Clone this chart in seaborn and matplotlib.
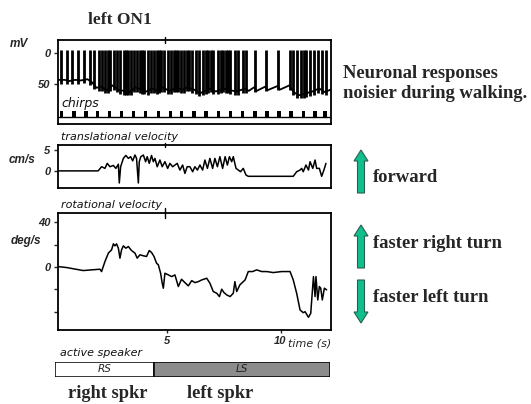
import numpy as np
import matplotlib
matplotlib.use("Agg")
import matplotlib.pyplot as plt
from matplotlib.patches import FancyArrow
import seaborn as sns

# ---------------- data ----------------
# membrane potential (left ON1), mV ; time in s
spike_t = [0.33, 0.58, 0.81, 1.07, 1.36, 1.62, 1.80, 1.99, 2.14, 2.28, 2.40, 2.48,
           2.65, 2.80, 2.94, 3.09, 3.18, 3.27, 3.41, 3.56, 3.68, 3.82, 3.92, 4.00,
           4.15, 4.31, 4.44, 4.56, 4.66, 4.74, 4.88, 5.03, 5.18, 5.32, 5.40, 5.47,
           5.62, 5.76, 5.86, 5.96, 6.10, 6.26, 6.40, 6.59, 6.70, 6.81, 6.92, 7.03,
           7.25, 7.36, 7.47, 7.61, 7.70, 7.79, 7.98, 8.13, 8.35, 8.49, 8.86, 9.35,
           9.89, 10.41, 10.55, 10.73, 10.92, 11.03, 11.14, 11.29, 11.46, 11.65,
           11.84, 12.02]
spike_peak_mv = 4
base_t = [0.18, 0.5, 0.7, 0.95, 1.2, 1.5, 1.7, 1.9, 2.1, 2.35, 2.6, 2.85, 3.1,
          3.35, 3.6, 3.9, 4.1, 4.35, 4.6, 4.8, 5.1, 5.4, 5.7, 5.9, 6.2, 6.45,
          6.9, 7.15, 7.5, 7.8, 8.05, 8.3, 8.45, 8.6, 8.84, 8.95, 9.33, 9.42,
          9.87, 9.97, 10.39, 10.5, 10.65, 10.85, 11.1, 11.4, 11.7, 11.95, 12.2]
base_mv = [-44, -44, -46, -44, -45, -43, -48, -57, -55, -61, -53, -60, -62,
           -64, -56, -60, -63, -58, -62, -56, -62, -57, -60, -56, -60, -66,
           -58, -63, -58, -61, -63, -60, -58, -62, -56, -62, -55, -61,
           -54, -60, -53, -60, -66, -69, -66, -63, -58, -64, -60]

# chirp onsets (s)
chirp_t = [0.36, 0.90, 1.43, 1.95, 2.46, 3.00, 3.53, 4.06, 4.62, 5.15, 5.65, 6.19,
           6.72, 7.26, 7.81, 8.33, 8.88, 9.41, 9.93, 10.46, 11.00, 11.52, 11.96]

# translational velocity (cm/s)
trans_t = [0.18, 1.97, 2.12, 2.27, 2.37, 2.49, 2.64, 2.75, 2.86, 2.90, 2.96, 3.08,
           3.19, 3.30, 3.40, 3.49, 3.59, 3.66, 3.74, 3.78, 3.85, 3.96, 4.06, 4.13,
           4.22, 4.32, 4.40, 4.47, 4.57, 4.69, 4.79, 4.91, 5.03, 5.13, 5.25, 5.35,
           5.45, 5.57, 5.69, 5.79, 5.89, 6.01, 6.13, 6.23, 6.34, 6.45, 6.57, 6.67,
           6.78, 6.89, 7.01, 7.11, 7.22, 7.33, 7.45, 7.56, 7.66, 7.75, 7.85, 7.92,
           8.04, 8.14, 8.24, 8.36, 8.48, 8.58, 9.39, 10.56, 10.71, 10.86, 10.93,
           11.00, 11.12, 11.23, 11.30, 11.42, 11.52, 11.59, 11.71, 11.81, 11.91, 12.00]
trans_v = [0.0, 0.0, 1.0, 0.6, 1.8, 1.0, 1.3, 0.6, 1.6, -2.9, 1.0, 3.0,
           3.7, 3.0, 3.4, 2.4, 3.8, 3.0, -2.9, 2.2, 3.4, 3.8, 2.2, 3.4,
           1.8, 3.7, 2.2, 3.0, 1.0, 2.6, 1.0, 2.2, 0.6, 1.8, 1.0, 1.4,
           1.8, 0.2, 1.4, -0.6, 1.0, 1.0, -0.2, 1.0, 0.2, 1.4, 0.2, 2.6,
           0.6, 3.0, 0.6, 3.0, 1.0, 3.4, 0.6, 3.4, 1.4, 3.4, 2.2, 3.4,
           0.6, 0.2, -0.2, 0.6, -1.0, -1.3, -1.3, -1.3, -0.2, 0.2, 0.6,
           -0.2, 1.4, 0.2, 2.2, 0.6, 2.6, 0.6, 0.6, -1.3, 0.2, 1.8]

# rotational velocity (deg/s)
rot_t = [0.18, 0.58, 1.31, 1.68, 2.05, 2.12, 2.27, 2.42, 2.56, 2.64, 2.71, 2.78,
         2.86, 2.93, 3.00, 3.08, 3.19, 3.30, 3.44, 3.59, 3.69, 3.81, 3.96, 4.10,
         4.22, 4.32, 4.43, 4.54, 4.62, 4.72, 4.79, 4.84, 4.91, 5.06, 5.21, 5.35,
         5.50, 5.64, 5.79, 5.94, 6.09, 6.23, 6.38, 6.53, 6.75, 6.89, 7.04, 7.19,
         7.31, 7.41, 7.51, 7.63, 7.78, 7.92, 7.99, 8.07, 8.21, 8.44, 8.58, 8.77,
         8.95, 9.17, 9.39, 9.68, 10.05, 10.42, 10.56, 10.71, 10.86, 11.00, 11.08,
         11.23, 11.33, 11.40, 11.45, 11.52, 11.56, 11.64, 11.71, 11.77, 11.84,
         11.93, 12.03]
rot_v = [0.3, -0.6, -3.3, -2.7, -2.1, -4.2, 4.8, 12.3, 15.2, 20.6, 18.8, 20.6,
         16.7, 7.8, 15.2, 18.8, 16.7, 18.2, 14.6, 12.3, 7.8, 10.8, 9.9, 9.3,
         14.6, 12.9, 9.3, 3.3, 1.8, -5.7, -14.6, -19.1, -5.7, -7.2, -8.7, -7.2,
         -17.6, -11.1, -14.1, -17.0, -12.3, -14.1, -13.2, -11.7, -10.2, -14.6, -22.1, -23.6,
         -26.6, -20.0, -23.0, -25.1, -26.6, -23.6, -13.2, -22.1, -16.1, -11.7, -4.2, -4.2,
         -2.7, -4.2, -4.2, -5.1, -4.2, -4.2, -11.7, -23.6, -38.6, -41.0, -40.1,
         -45.1, -41.6, -22.1, -8.7, -26.6, -8.7, -29.6, -17.6, -19.1, -29.6,
         -19.1, -20.6]

# active speaker
speaker_names = ["RS", "LS"]
speaker_start = [0.07, 4.43]
speaker_end = [4.43, 12.18]
speaker_colors = ["white", "#8c8c8c"]

# ---------------- style ----------------
sns.set_theme(style="ticks")
plt.rcParams["font.family"] = ["Liberation Sans", "DejaVu Sans"]
plt.rcParams["axes.linewidth"] = 1.3
plt.rcParams["axes.edgecolor"] = "black"

fig = plt.figure(figsize=(5.31, 4.04), dpi=100)
fig.patch.set_facecolor("white")

W, H = 531.0, 404.0
def box(x0, y0, x1, y1):
    return [x0 / W, 1 - y1 / H, (x1 - x0) / W, (y1 - y0) / H]

XL = (0.18, 12.2)
lab_kw = dict(fontstyle="italic", fontweight="bold", fontsize=8.5)

def style_axis(ax):
    ax.set_xlim(*XL)
    for s in ax.spines.values():
        s.set_visible(True)
        s.set_linewidth(1.3)
    ax.tick_params(axis="y", direction="out", length=3, width=1, pad=2, labelsize=8)
    ax.tick_params(axis="x", bottom=False, labelbottom=False)
    for lab in ax.get_yticklabels():
        lab.set_fontweight("bold"); lab.set_fontstyle("italic")
    ax.set_xlabel(""); ax.set_ylabel("")
    ax.plot([4.9, 4.9], [0.96, 1.04], transform=ax.get_xaxis_transform(),
            color="black", lw=1, clip_on=False)

# --- membrane potential + chirps ---
ax1 = fig.add_axes(box(57.5, 40, 330.5, 124))
sns.lineplot(x=base_t, y=base_mv, ax=ax1, color="black", lw=1.3, sort=False, estimator=None)
spike_base = np.interp(spike_t, base_t, base_mv)
ax1.vlines(spike_t, spike_base - 6, spike_peak_mv, color="black", lw=2.0)
ax1.bar(chirp_t, 11, bottom=-105, width=0.15, color="black", align="center",
        linewidth=0)
ax1.axhline(-105, color="black", lw=1.0)
ax1.set_ylim(-116, 21)
ax1.set_yticks([0, -50])
ax1.set_yticklabels(["0", "50"])
style_axis(ax1)

# --- translational velocity ---
ax2 = fig.add_axes(box(57.5, 145, 330.5, 188))
sns.lineplot(x=trans_t, y=trans_v, ax=ax2, color="black", lw=1.1, sort=False, estimator=None)
ax2.set_ylim(-4.1, 6.2)
ax2.set_yticks([5, 0])
ax2.set_yticklabels(["5", "0"])
style_axis(ax2)

# --- rotational velocity ---
ax3 = fig.add_axes(box(57.5, 213, 330.5, 330))
sns.lineplot(x=rot_t, y=rot_v, ax=ax3, color="black", lw=1.1, sort=False, estimator=None)
ax3.set_ylim(-56.5, 48.2)
ax3.set_yticks([40, 20, 0, -20, -40])
ax3.set_yticklabels(["40", "", "0", "", ""])
style_axis(ax3)
ax3.tick_params(axis="x", bottom=True, labelbottom=True, direction="out",
                length=2.5, width=1, pad=1.5, labelsize=8)
ax3.set_xticks([5, 10])
ax3.set_xticklabels(["5", "10"])
for lab in ax3.get_xticklabels():
    lab.set_fontweight("bold"); lab.set_fontstyle("italic")

# --- active speaker bar ---
ax4 = fig.add_axes(box(55, 362, 330, 377))
ax4.barh([0] * len(speaker_names), np.subtract(speaker_end, speaker_start),
         left=speaker_start, height=1.0, color=speaker_colors,
         edgecolor="black", linewidth=1.1)
for nm, a, b in zip(speaker_names, speaker_start, speaker_end):
    ax4.text((a + b) / 2, 0, nm, ha="center", va="center", fontsize=7.5,
             fontstyle="italic", family="DejaVu Sans", color="#222222")
ax4.set_xlim(0.07, 12.18)
ax4.set_ylim(-0.5, 0.5)
ax4.axis("off")

# --- overlay for annotations (pixel coordinates) ---
ov = fig.add_axes([0, 0, 1, 1])
ov.set_xlim(0, W); ov.set_ylim(H, 0); ov.axis("off")
ov.patch.set_alpha(0)

ov.text(120, 20, "left ON1", ha="center", va="center", fontsize=12.5,
        family="Liberation Serif", fontweight="bold")
ov.text(19, 44, "mV", ha="center", va="center", **lab_kw)
ov.text(22, 160, "cm/s", ha="center", va="center", **lab_kw)
ov.text(26, 241, "deg/s", ha="center", va="center", **lab_kw)
small = dict(fontstyle="italic", fontsize=8, family="DejaVu Sans",
             color="#111111", va="center", ha="left")
ov.text(61, 103, "chirps", **dict(small, fontsize=9))
ov.text(61, 137, "translational velocity", **small)
ov.text(61, 205, "rotational velocity", **small)
ov.text(60, 353, "active speaker", **small)
ov.text(288, 343, "time (s)", ha="left", va="center", fontstyle="italic",
        fontsize=8, family="DejaVu Sans")

serif = dict(family="Liberation Serif", fontweight="bold", fontsize=13.4,
             ha="left", va="center")
ov.text(343, 73, "Neuronal responses", **serif)
ov.text(343, 93, "noisier during walking.", **serif)
ov.text(373, 178, "forward", **serif)
ov.text(373, 243, "faster right turn", **serif)
ov.text(373, 298, "faster left turn", **serif)
ov.text(108, 393, "right spkr", family="Liberation Serif", fontweight="bold",
        fontsize=13.2, ha="center", va="center")
ov.text(220, 393, "left spkr", family="Liberation Serif", fontweight="bold",
        fontsize=13.2, ha="center", va="center")

arrow_kw = dict(width=7, head_width=14, head_length=11, length_includes_head=True,
                fc="#10c08c", ec="#2b5e4e", lw=0.8)
ov.add_patch(FancyArrow(361, 193, 0, -43, **arrow_kw))
ov.add_patch(FancyArrow(361, 268, 0, -43, **arrow_kw))
ov.add_patch(FancyArrow(361, 280, 0, 43, **arrow_kw))

fig.savefig("out.png", dpi=100, facecolor="white")
